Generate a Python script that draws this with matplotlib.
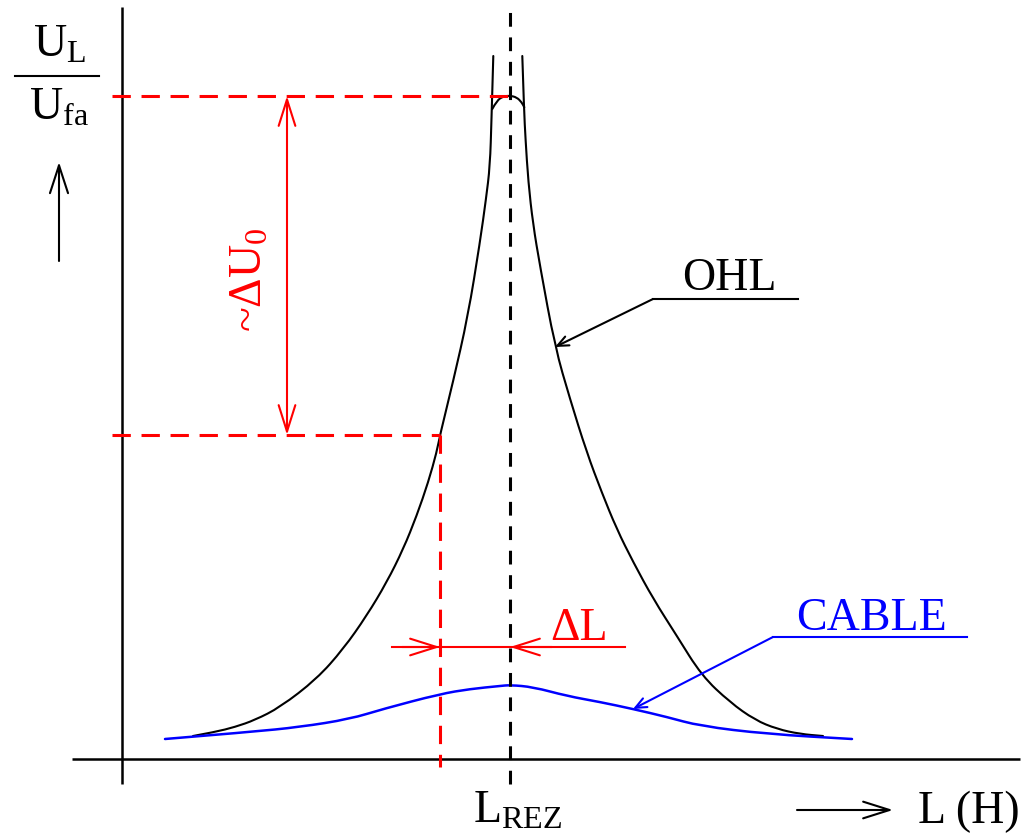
import matplotlib
matplotlib.use("Agg")
import matplotlib.pyplot as plt
from matplotlib.path import Path
from matplotlib.patches import PathPatch

plt.rcParams["font.family"] = ["Liberation Serif", "DejaVu Serif"]
plt.rcParams["mathtext.default"] = "regular"

# Resonance curve of the overhead line (OHL): inductance L vs U_L/U_fa
ohl_left_L = [71, 93, 113, 133, 158, 194.7, 221.3, 244.7, 264.7, 281.3, 294.7,
              306.3, 314.7, 318, 331, 346, 358, 364, 368, 369.5, 371.3]
ohl_left_U = [23, 27, 32, 39, 51.7, 80, 110, 143.3, 176.7, 210, 243.3,
              277, 307, 324, 377, 443, 517, 560, 593, 640, 703]
ohl_right_L = [400.3, 402, 403.5, 406.3, 411, 418, 433, 448, 464.7, 479.7,
               494.7, 511.3, 531.3, 554.7, 579.7, 608, 633, 655, 678, 701]
ohl_right_U = [703, 650, 620, 577, 535, 493, 412, 360, 306.7, 266.7,
               230, 196.7, 160, 123.3, 83.3, 56.7, 39, 30, 25, 23]
# damped top of the OHL resonance peak
ohl_cap_L = [370.3, 374.7, 381.3, 388, 394.7, 399.7, 402.3]
ohl_cap_U = [650, 658.3, 662.7, 663.3, 661.7, 656.7, 651.7]

# Cable resonance curve
cable_L = [43, 128, 178, 228, 261, 318, 348, 378, 388, 411, 445, 478, 511, 545,
           578, 645, 730]
cable_U = [20, 27, 32, 40, 50, 65, 70, 73, 74, 72, 63, 57, 50, 42, 33, 25, 20]

L_rez = 388          # resonance inductance
U_peak = 663         # OHL peak level
U_off = 324          # OHL level at detuned inductance
L_off = 318          # detuned inductance

RED = "#ff0000"
BLUE = "#0000ff"
FS = 33


def smooth_curve(ax, xs, ys, **kw):
    """Draw a smooth quadratic-Bezier path through the given data points."""
    pts = list(zip(xs, ys))
    verts = [pts[0]]
    codes = [Path.MOVETO]
    for i in range(1, len(pts) - 1):
        mid = ((pts[i][0] + pts[i + 1][0]) / 2, (pts[i][1] + pts[i + 1][1]) / 2)
        verts += [pts[i], mid]
        codes += [Path.CURVE3, Path.CURVE3]
    verts.append(pts[-1])
    codes.append(Path.LINETO)
    ax.add_patch(PathPatch(Path(verts, codes), fill=False, capstyle="round",
                           joinstyle="round", **kw))


def arrow(ax, tip, tail, color, hl=1.9, hw=0.6, lw=1.5, style="->"):
    ax.annotate("", xy=tip, xytext=tail,
                arrowprops=dict(arrowstyle=f"{style},head_length={hl},head_width={hw}",
                                color=color, lw=lw, shrinkA=0, shrinkB=0,
                                mutation_scale=10))


fig = plt.figure(figsize=(10.30, 8.37), dpi=100)
ax = fig.add_axes([0, 0, 1, 1])
ax.set_xlim(-122, 908)
ax.set_ylim(-77, 760)
ax.axis("off")

# axes lines
ax.plot([0, 0], [-25, 752], color="black", lw=1.8, solid_capstyle="butt")
ax.plot([-50, 898], [0, 0], color="black", lw=1.8, solid_capstyle="butt")

# resonance line
ax.plot([L_rez, L_rez], [-25, 752], color="black", lw=2.2,
        linestyle=(0, (4.5, 3.5)))

# curves
smooth_curve(ax, ohl_left_L, ohl_left_U, edgecolor="black", lw=1.5)
smooth_curve(ax, ohl_right_L, ohl_right_U, edgecolor="black", lw=1.5)
smooth_curve(ax, ohl_cap_L, ohl_cap_U, edgecolor="black", lw=1.5)
smooth_curve(ax, cable_L, cable_U, edgecolor=BLUE, lw=1.8)

# red construction lines
red_dash = (0, (6, 3.5))
ax.plot([-10, L_rez], [U_peak, U_peak], color=RED, lw=2.2, linestyle=red_dash)
ax.plot([-10, L_off], [U_off, U_off], color=RED, lw=2.2, linestyle=red_dash)
ax.plot([L_off, L_off], [U_off, -8], color=RED, lw=2.2, linestyle=red_dash)

# Delta U0 arrow
arrow(ax, (165, U_peak), (165, U_off), RED, style="<->")
ax.text(128, 480, "~ΔU$_0$", color=RED, fontsize=FS, rotation=90,
        ha="center", va="center")

# Delta L arrows
dl_U = 112
ax.plot([270, 503], [dl_U, dl_U], color=RED, lw=1.5)
arrow(ax, (L_off, dl_U), (280, dl_U), RED)
arrow(ax, (L_rez, dl_U), (430, dl_U), RED)
ax.text(457, 120, "ΔL", color=RED, fontsize=FS, ha="center", va="baseline")

# OHL leader
ax.plot([531, 676], [460, 460], color="black", lw=1.5)
arrow(ax, (433, 412), (531, 460), "black", hl=0.8, hw=0.35)
ax.text(607, 470, "OHL", color="black", fontsize=FS, ha="center", va="baseline")

# CABLE leader
ax.plot([651, 845], [122, 122], color=BLUE, lw=1.5)
arrow(ax, (511, 50), (651, 122), BLUE, hl=0.8, hw=0.35)
ax.text(749, 130, "CABLE", color=BLUE, fontsize=FS, ha="center", va="baseline")

# vertical axis label
ax.text(-63, 703, "U$_L$", fontsize=FS, ha="center", va="baseline")
ax.plot([-107, -23], [683, 683], color="black", lw=1.5)
ax.text(-63, 640, "U$_{fa}$", fontsize=FS, ha="center", va="baseline")
arrow(ax, (-63, 597), (-63, 498), "black", hl=2.0, hw=0.65)

# horizontal axis labels
ax.text(351, -63, "L$_{REZ}$", fontsize=FS, ha="left", va="baseline")
arrow(ax, (771, -51), (675, -51), "black")
ax.text(796, -63, "L (H)", fontsize=FS, ha="left", va="baseline")

fig.savefig("out.png", dpi=100)
